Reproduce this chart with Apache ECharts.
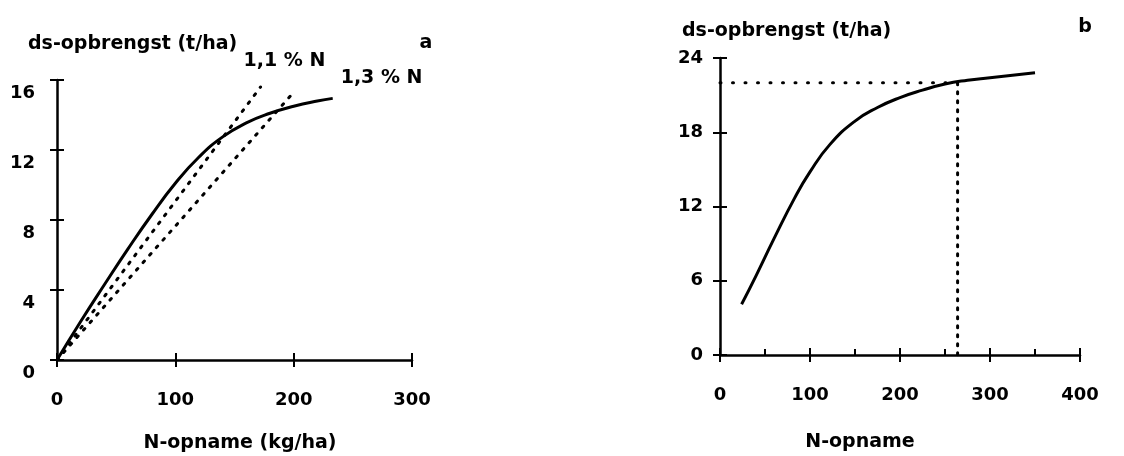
<!DOCTYPE html>
<html>
<head>
<meta charset="utf-8">
<script src="https://cdn.jsdelivr.net/npm/echarts@6/dist/echarts.min.js"></script>
<style>
  html, body { margin: 0; padding: 0; background: #fff; }
  #main { width: 1124px; height: 456px; }
</style>
</head>
<body>
<div id="main"></div>
<script>
// panel a: dry-matter yield vs N uptake
var yieldA = [[0, 0], [20, 2.2], [40, 4.3], [60, 6.35], [80, 8.3], [100, 10.1], [120, 11.6],
  [140, 12.75], [160, 13.55], [180, 14.1], [200, 14.5], [220, 14.8], [233, 14.95]];
var line11 = [[0, 0], [172, 15.6]];
var line13 = [[0, 0], [200, 15.3]];
var label11 = '1,1 % N';
var label13 = '1,3 % N';

// panel b
var yieldB = [[24, 4.1], [40, 6.4], [60, 9.4], [83, 12.7], [100, 14.8], [122, 17.0], [150, 18.9],
  [175, 20.0], [200, 20.8], [225, 21.4], [250, 21.9], [275, 22.2], [300, 22.4], [350, 22.8]];
var guideH = [[0, 22], [264, 22]];
var guideV = [[264, 22], [264, 0]];

var yTitle = 'ds-opbrengst (t/ha)';
var xTitleA = 'N-opname (kg/ha)';
var xTitleB = 'N-opname';

var FONT = '"DejaVu Sans", sans-serif';
var axisLine = { show: true, onZero: false, lineStyle: { color: '#000', width: 2.5 } };
var tickOut = { show: true, inside: false, length: 7, lineStyle: { color: '#000', width: 2 } };
var tickIn = { show: true, inside: true, length: 7, lineStyle: { color: '#000', width: 2 } };
var tickLabel = { color: '#000', fontFamily: FONT, fontSize: 18, fontWeight: 'bold' };

function xAxes(grid, max, extra) {
    var main = {
        type: 'value', gridIndex: grid, min: 0, max: max, interval: 100, position: 'bottom',
        axisLine: axisLine, axisTick: tickOut, splitLine: { show: false },
        axisLabel: Object.assign({ margin: 31 }, tickLabel)
    };
    var inner = Object.assign({
        type: 'value', gridIndex: grid, min: 0, max: max, interval: 100, position: 'bottom',
        axisLine: { show: false }, axisTick: tickIn, axisLabel: { show: false }, splitLine: { show: false }
    }, extra || {});
    return [main, inner];
}

function yAxes(grid, max, interval, labelStyle) {
    var main = {
        type: 'value', gridIndex: grid, min: 0, max: max, interval: interval, position: 'left',
        axisLine: axisLine, axisTick: tickOut, splitLine: { show: false },
        axisLabel: Object.assign({}, tickLabel, labelStyle)
    };
    var inner = {
        type: 'value', gridIndex: grid, min: 0, max: max, interval: interval, position: 'left',
        axisLine: { show: false }, axisTick: tickIn, axisLabel: { show: false }, splitLine: { show: false }
    };
    return [main, inner];
}

function txt(str, x, y, align) {
    return {
        type: 'text', x: x, y: y,
        style: { text: str, font: 'bold 19px ' + FONT, fill: '#000', textAlign: align, textVerticalAlign: 'middle' }
    };
}

var solid = { color: '#000', width: 3 };
var dotted = { color: '#000', width: 3, type: [2, 8], cap: 'round' };
var endLbl = { show: true, color: '#000', fontFamily: FONT, fontSize: 19, fontWeight: 'bold' };

var option = {
    backgroundColor: '#fff',
    animation: false,
    grid: [
        { left: 57, top: 80, width: 355, height: 280 },
        { left: 720, top: 58, width: 360, height: 297 }
    ],
    xAxis: xAxes(0, 300).concat(xAxes(1, 400, {
        minorTick: { show: true, splitNumber: 2, length: 6, lineStyle: { color: '#000', width: 2 } }
    })),
    yAxis: yAxes(0, 16, 4, { margin: 22, verticalAlign: 'top', padding: [4, 0, 0, 0] })
        .concat(yAxes(1, 24, 6, { margin: 17, padding: [5, 0, 0, 0] })),
    graphic: [
        txt(yTitle, 28, 44, 'left'),
        txt('a', 426, 43, 'center'),
        txt(yTitle, 682, 31, 'left'),
        txt('b', 1085, 27, 'center'),
        txt(xTitleA, 240, 443, 'center'),
        txt(xTitleB, 860, 442, 'center')
    ],
    series: [
        {
            type: 'line', xAxisIndex: 0, yAxisIndex: 0, data: yieldA, smooth: true,
            showSymbol: false, lineStyle: solid
        },
        {
            type: 'line', xAxisIndex: 0, yAxisIndex: 0, data: line11, showSymbol: false,
            lineStyle: dotted,
            endLabel: Object.assign({ formatter: label11, offset: [-25, -26] }, endLbl)
        },
        {
            type: 'line', xAxisIndex: 0, yAxisIndex: 0, data: line13, showSymbol: false,
            lineStyle: dotted,
            endLabel: Object.assign({ formatter: label13, offset: [39, -14] }, endLbl)
        },
        {
            type: 'line', xAxisIndex: 2, yAxisIndex: 2, data: yieldB, smooth: true,
            showSymbol: false, lineStyle: solid
        },
        {
            type: 'line', xAxisIndex: 2, yAxisIndex: 2, data: guideH, showSymbol: false,
            lineStyle: { color: '#000', width: 3, type: [1, 11.5], cap: 'round' }
        },
        {
            type: 'line', xAxisIndex: 2, yAxisIndex: 2, data: guideV, showSymbol: false,
            lineStyle: { color: '#000', width: 3, type: [2, 7], cap: 'round' }
        }
    ]
};

window.addEventListener('load', () => {
    var chart = echarts.init(document.getElementById('main'));
    chart.setOption(option);
});
</script>
</body>
</html>
